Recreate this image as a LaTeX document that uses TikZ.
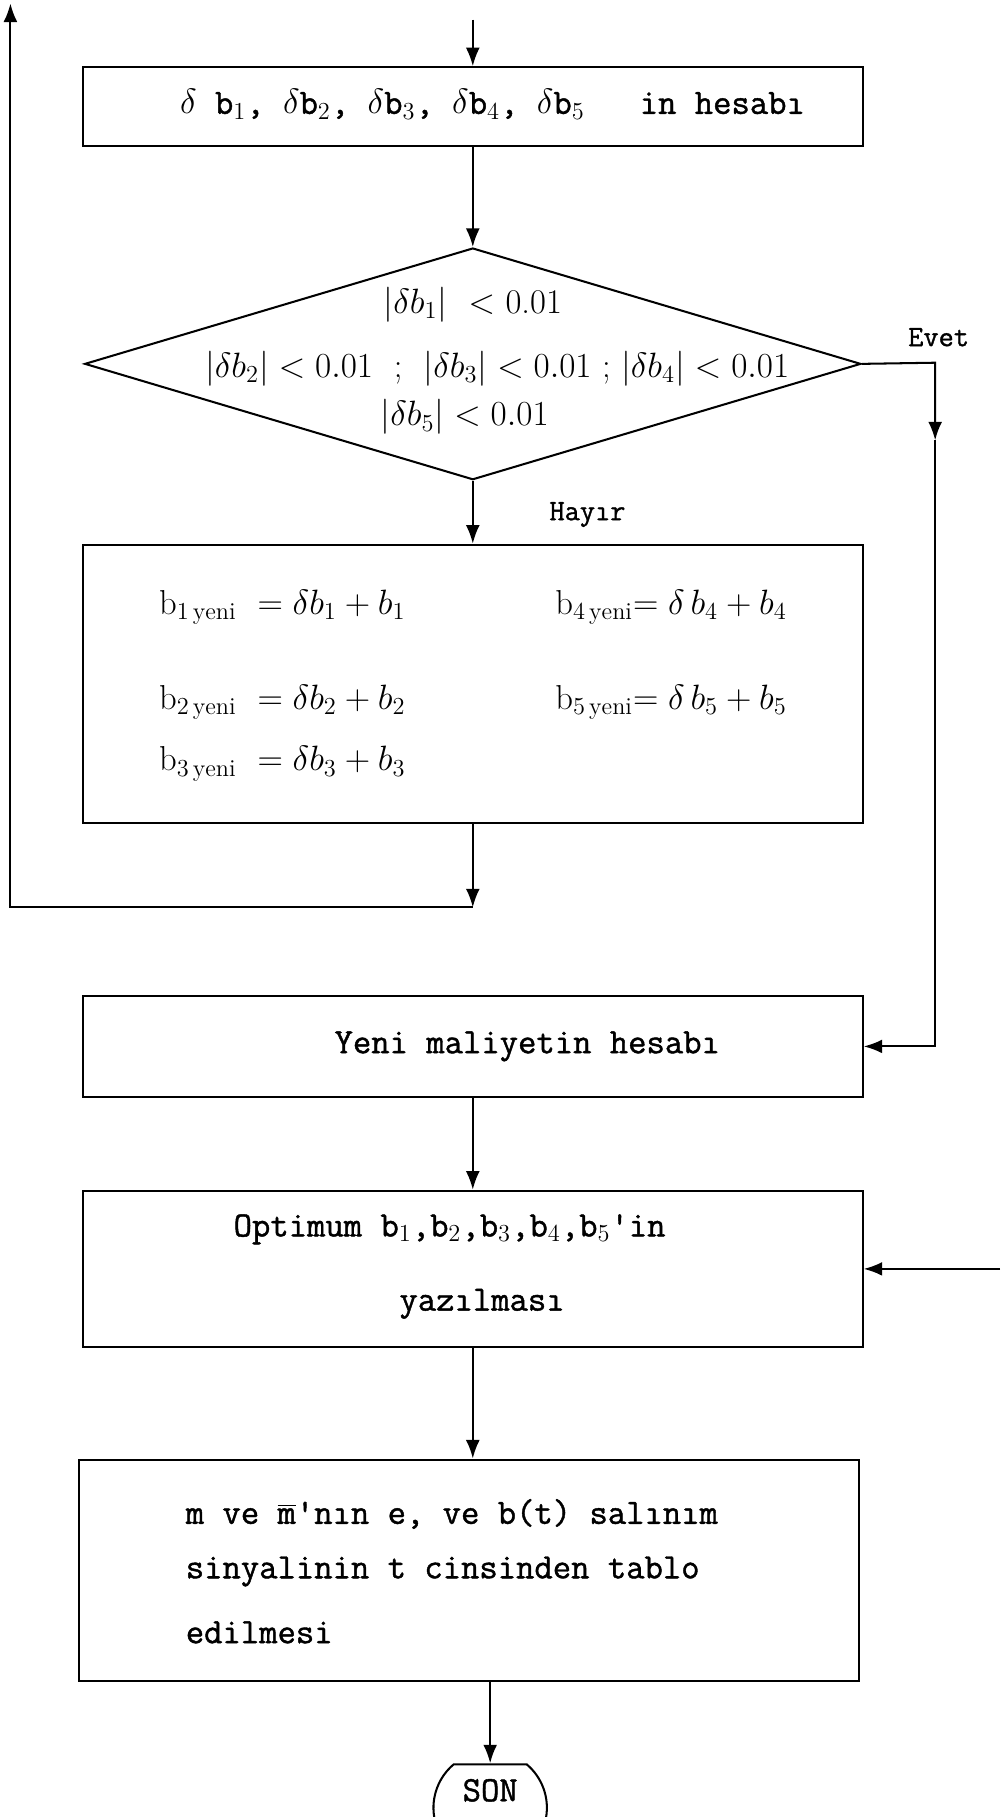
\documentclass[tikz,border=0pt]{standalone}
\usepackage{fontspec}
\newfontfamily\tw[FakeBold=1.2]{Latin Modern Mono}
\usetikzlibrary{arrows.meta,shapes.geometric,shapes.misc}

\begin{document}
\begin{tikzpicture}[x=0.02cm,y=-0.02cm,every node/.style={inner sep=0pt},
  box/.style={draw,line width=1pt,minimum width=13.46cm},
  tt/.style={font=\fontsize{17.5}{21}\tw},
  lbl/.style={font=\fontsize{14.5}{17}\tw},
  fm/.style={font=\fontsize{17}{20}\selectfont},
  arr/.style={line width=1pt,-{Latex[length=3.2mm,width=2.4mm]}}]
\useasboundingbox (0,0) rectangle (863,1568);
% frames
\node[box,minimum height=1.36cm] (b1) at (408,92) {};
\node[diamond,draw,line width=1pt,minimum width=13.4cm,minimum height=4cm] (dia) at (408,314) {};
\node[box,minimum height=4.8cm] (b3) at (408,590) {};
\node[box,minimum height=1.74cm] (b4) at (408,903) {};
\node[box,minimum height=2.7cm] (b5) at (408,1095) {};
\node[box,minimum height=3.82cm] (b6) at (405,1355) {};
\node[rounded rectangle,rounded rectangle arc length=100,draw,line width=1pt,minimum width=1.6cm,minimum height=1.5cm] (son) at (423,1560) {};
% texts
\node[tt] (t1) at (425,90) {$\delta$ b$_1$, $\delta$b$_2$, $\delta$b$_3$, $\delta$b$_4$, $\delta$b$_5$ \ \ in hesabı};
\node[fm] (c1) at (408,263) {$|\delta b_1|$ \ $<$ 0.01};
\node[fm] (c2) at (429,318) {$|\delta b_2|<0.01$ \ ; \ $|\delta b_3|<0.01$ ; $|\delta b_4|<0.01$};
\node[fm] (c3) at (401,360) {$|\delta b_5|<0.01$};
\node[lbl] (evet) at (810,291) {Evet};
\node[lbl] (hayir) at (507,444) {Hayır};
\node[fm,anchor=west] (f1) at (137,524) {b$_{1\,\mathrm{yeni}}$\ \ $=\delta b_1+b_1$};
\node[fm,anchor=west] (f2) at (137,606) {b$_{2\,\mathrm{yeni}}$\ \ $=\delta b_2+b_2$};
\node[fm,anchor=west] (f3) at (137,659) {b$_{3\,\mathrm{yeni}}$\ \ $=\delta b_3+b_3$};
\node[fm,anchor=west] (f4) at (479,524) {b$_{4\,\mathrm{yeni}}$$=\delta\,b_4+b_4$};
\node[fm,anchor=west] (f5) at (479,606) {b$_{5\,\mathrm{yeni}}$$=\delta\,b_5+b_5$};
\node[tt] (t4) at (455,903) {Yeni maliyetin hesabı};
\node[tt,anchor=base] (t5a) at (388,1067) {Optimum b$_1$,b$_2$,b$_3$,b$_4$,b$_5$'in};
\node[tt,anchor=base] (t5b) at (416,1131) {yazılması};
\node[tt,anchor=base west] (t6a) at (160,1315) {m ve $\overline{\hbox{m}}$'nın e, ve b(t) salınım};
\node[tt,anchor=base west] (t6b) at (160,1362) {sinyalinin t cinsinden tablo};
\node[tt,anchor=base west] (t6c) at (160,1418) {edilmesi};
\node[tt] (sontxt) at (423,1545) {SON};
% connectors
\coordinate (start) at (408,17);
\coordinate (lc) at (408,783);
\coordinate (ll) at (9,783);
\coordinate (lt) at (9,3);
\coordinate (ec) at (807,313);
\coordinate (em) at (807,380);
\coordinate (eb) at (807,903);
\coordinate (ret) at (863,1095);
\draw[arr] (start) -- (b1.north);
\draw[arr] (b1.south) -- (dia.north);
\draw[arr] (dia.south) -- (b3.north);
\draw[arr] (b3.south) -- (lc);
\draw[arr] (lc) -- (ll) -- (lt);
\draw[arr] (dia.east) -- (ec) -- (em);
\draw[arr] (em) -- (eb) -- (b4.east);
\draw[arr] (b4.south) -- (b5.north);
\draw[arr] (ret) -- (b5.east);
\draw[arr] (b5.south) -- (b5.south |- b6.north);
\draw[arr] (b6.south -| son.north) -- (son.north);
\end{tikzpicture}
\end{document}
